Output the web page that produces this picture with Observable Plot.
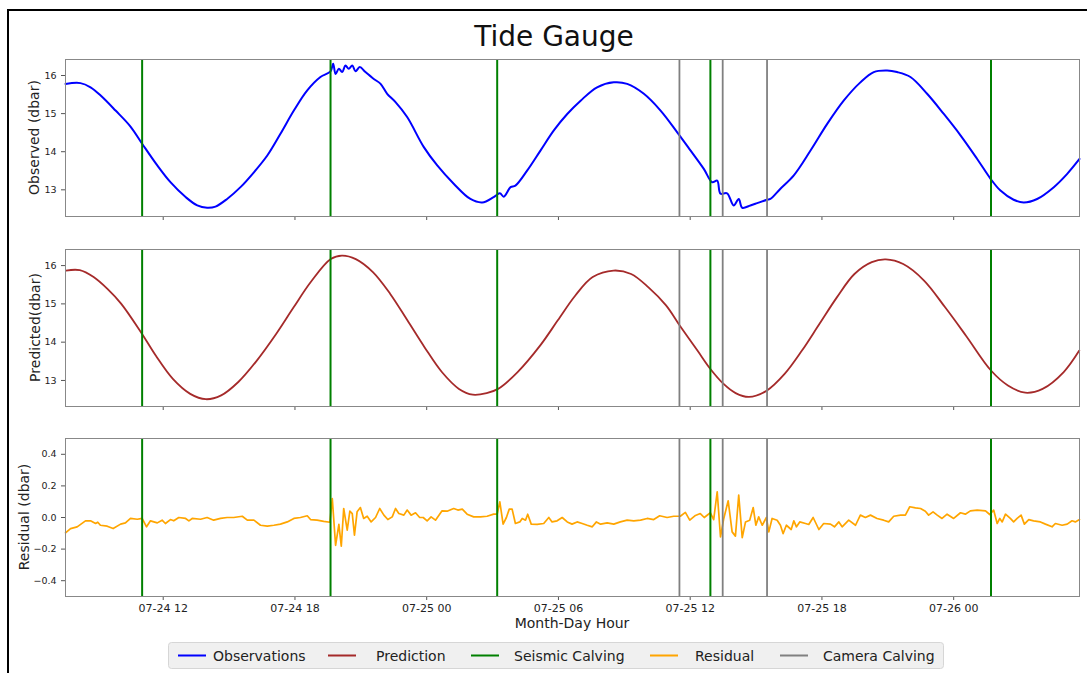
<!DOCTYPE html>
<html><head><meta charset="utf-8">
<script src="https://cdn.jsdelivr.net/npm/d3@7"></script>
<script src="https://cdn.jsdelivr.net/npm/@observablehq/plot@0.6"></script>
<style>
body{margin:0;background:#fff;}
#wrap{position:relative;width:1087px;height:673px;overflow:hidden;font-family:"DejaVu Sans",sans-serif;background:#fff;}
#wrap > svg{position:absolute;left:0;}
#overlay{position:absolute;left:0;top:0;pointer-events:none;}
</style></head><body><div id="wrap"></div>
<script>
// ---- data (hours since 07-24 00:00, values in dbar) ----
const xDomainHours = [7.55, 53.73];
const xTickHours = [12, 18, 24, 30, 36, 42, 48];
const levelTicks = [13, 14, 15, 16];
const residualTicks = [-0.4, -0.2, 0, 0.2, 0.4];
const seismicHours = [11.04, 19.62, 27.21, 36.92, 49.70];
const cameraHours = [35.51, 37.48, 39.50];

const observed = [[7.55,15.78],[8.23,15.80],[8.69,15.69],[9.14,15.48],[9.83,15.08],[10.51,14.66],[11.04,14.21],[11.73,13.64],[12.33,13.20],[13.02,12.81],[13.55,12.59],[14.00,12.53],[14.38,12.56],[14.91,12.76],[15.52,13.07],[16.13,13.46],[16.74,13.90],[17.34,14.47],[17.95,15.08],[18.56,15.61],[19.16,15.96],[19.62,16.11],[19.74,16.31],[19.85,16.04],[20.00,16.18],[20.15,16.09],[20.30,16.26],[20.45,16.18],[20.61,16.26],[20.76,16.11],[20.95,16.22],[21.21,16.09],[21.59,15.91],[21.90,15.78],[22.20,15.52],[22.58,15.30],[23.11,14.91],[23.87,14.12],[24.48,13.64],[25.23,13.16],[25.99,12.76],[26.53,12.67],[27.05,12.81],[27.33,12.91],[27.51,12.82],[27.82,13.07],[28.04,13.11],[28.58,13.51],[29.18,14.03],[29.79,14.56],[30.40,14.99],[31.01,15.34],[31.76,15.69],[32.52,15.82],[33.13,15.78],[33.89,15.52],[34.65,15.08],[35.41,14.51],[36.02,14.03],[36.62,13.55],[37.00,13.20],[37.23,13.24],[37.38,12.90],[37.68,12.91],[37.98,12.59],[38.21,12.76],[38.37,12.53],[38.74,12.59],[39.05,12.65],[39.50,12.74],[39.65,12.76],[40.11,13.03],[40.72,13.38],[41.48,14.03],[42.24,14.73],[42.99,15.34],[43.75,15.82],[44.36,16.09],[44.97,16.13],[45.42,16.09],[46.03,15.96],[46.79,15.52],[47.55,14.99],[48.31,14.43],[49.07,13.81],[49.68,13.29],[50.13,12.98],[50.73,12.74],[51.19,12.67],[51.80,12.76],[52.56,13.07],[53.17,13.42],[53.73,13.81]];

const predicted = [[7.57,15.87],[8.20,15.88],[8.83,15.70],[9.46,15.39],[10.09,15.00],[11.03,14.22],[11.66,13.65],[12.44,13.04],[13.23,12.65],[13.94,12.51],[14.64,12.61],[15.42,12.96],[16.21,13.48],[17.15,14.22],[17.94,14.91],[18.72,15.57],[19.63,16.17],[20.14,16.26],[20.77,16.17],[21.55,15.83],[22.34,15.26],[23.12,14.57],[23.90,13.87],[24.69,13.22],[25.47,12.78],[26.10,12.63],[26.73,12.67],[27.25,12.78],[28.14,13.22],[29.19,13.93],[29.97,14.57],[30.77,15.22],[31.56,15.70],[32.51,15.87],[33.31,15.78],[34.10,15.43],[34.90,14.96],[35.53,14.43],[36.33,13.78],[36.92,13.30],[37.52,12.91],[38.07,12.67],[38.68,12.57],[39.50,12.74],[40.30,13.17],[41.09,13.78],[41.89,14.48],[42.68,15.17],[43.48,15.78],[44.27,16.09],[44.91,16.16],[45.70,16.04],[46.65,15.61],[47.61,14.91],[48.56,14.17],[49.70,13.26],[50.47,12.87],[51.26,12.68],[52.05,12.78],[53.01,13.22],[53.72,13.78]];

const residual = [[7.55,-0.097],[7.78,-0.07],[8.08,-0.059],[8.46,-0.021],[8.69,-0.021],[8.92,-0.038],[9.02,-0.03],[9.14,-0.049],[9.45,-0.055],[9.72,-0.07],[10.06,-0.042],[10.28,-0.034],[10.51,-0.006],[10.82,-0.011],[11.04,-0.006],[11.24,-0.059],[11.42,-0.021],[11.73,-0.034],[11.95,-0.017],[12.10,-0.038],[12.33,-0.013],[12.48,-0.021],[12.71,0],[13.02,-0.006],[13.17,-0.021],[13.32,-0.006],[13.70,-0.011],[14.00,0],[14.30,-0.017],[14.61,-0.006],[14.91,0],[15.21,0],[15.60,0.008],[15.83,-0.017],[16.13,-0.017],[16.43,-0.049],[16.74,-0.055],[17.04,-0.049],[17.34,-0.042],[17.65,-0.028],[17.95,-0.006],[18.25,0],[18.56,0.011],[18.71,-0.013],[19.01,-0.017],[19.31,-0.025],[19.59,-0.03],[19.70,0.12],[19.85,-0.176],[20.00,-0.044],[20.11,-0.182],[20.22,0.057],[20.38,-0.08],[20.50,0.04],[20.61,0.025],[20.71,-0.112],[20.83,0.036],[20.98,0.063],[21.13,-0.006],[21.29,0.008],[21.47,-0.028],[21.67,0],[21.86,0.057],[22.05,0.015],[22.23,-0.013],[22.43,0.004],[22.58,0.057],[22.73,0.025],[22.96,0.015],[23.11,0.047],[23.29,0.015],[23.49,0.03],[23.68,0],[23.84,0],[24.02,-0.021],[24.20,0.004],[24.40,-0.017],[24.70,0.042],[24.93,0.04],[25.23,0.057],[25.42,0.047],[25.62,0.053],[25.84,0.021],[26.14,0.004],[26.45,0.004],[26.75,0.008],[27.05,0.021],[27.21,0.021],[27.33,0.099],[27.48,-0.042],[27.63,0],[27.76,0.053],[27.89,0.053],[28.04,-0.038],[28.24,-0.028],[28.35,-0.006],[28.50,-0.017],[28.60,0.021],[28.76,-0.042],[29.03,-0.044],[29.33,-0.038],[29.56,0],[29.71,-0.028],[29.94,-0.021],[30.17,0],[30.40,-0.028],[30.62,-0.042],[30.85,-0.028],[31.08,-0.038],[31.31,-0.049],[31.54,-0.059],[31.73,-0.028],[31.92,-0.042],[32.22,-0.034],[32.52,-0.042],[32.82,-0.028],[33.13,-0.017],[33.43,-0.021],[33.74,-0.017],[34.04,-0.006],[34.34,-0.013],[34.61,0.011],[34.95,0],[35.25,0.008],[35.55,0.008],[35.78,0.032],[35.98,-0.017],[36.24,0.013],[36.46,0.025],[36.64,0],[36.92,0.03],[37.07,-0.013],[37.23,0.163],[37.38,-0.123],[37.53,-0.006],[37.73,0.106],[37.91,-0.091],[38.06,-0.118],[38.21,0.142],[38.37,-0.127],[38.52,-0.028],[38.71,-0.017],[38.87,0.063],[38.99,-0.049],[39.12,0.004],[39.28,-0.049],[39.47,0],[39.58,-0.091],[39.73,-0.006],[39.96,-0.017],[40.11,-0.049],[40.23,-0.102],[40.38,-0.049],[40.60,-0.076],[40.72,-0.021],[40.84,-0.059],[40.99,-0.028],[41.25,-0.038],[41.40,-0.044],[41.60,0],[41.86,-0.076],[42.08,-0.038],[42.39,-0.042],[42.57,-0.059],[42.77,-0.028],[42.92,-0.059],[43.22,-0.017],[43.53,-0.049],[43.75,0.015],[43.98,0],[44.21,0.015],[44.51,-0.006],[44.81,-0.017],[45.04,-0.028],[45.27,0.008],[45.58,0.015],[45.80,0.015],[46.00,0.068],[46.26,0.061],[46.49,0.057],[46.71,0.04],[46.86,0.015],[47.06,0.036],[47.25,0.015],[47.47,-0.006],[47.70,0.021],[48.00,-0.006],[48.31,0.03],[48.53,0.021],[48.76,0.042],[49.07,0.047],[49.45,0.042],[49.64,0.019],[49.82,0.047],[49.98,-0.038],[50.10,-0.006],[50.21,-0.028],[50.36,0.021],[50.58,-0.006],[50.73,-0.028],[50.89,-0.006],[51.07,0.015],[51.22,-0.042],[51.42,-0.013],[51.64,-0.021],[51.95,-0.028],[52.18,-0.042],[52.48,-0.059],[52.63,-0.038],[52.94,-0.049],[53.17,-0.042],[53.39,-0.021],[53.54,-0.028],[53.73,-0.013]];

const legendItems = [
  {label: "Observations", color: "#0000ff"},
  {label: "Prediction", color: "#a52a2a"},
  {label: "Seismic Calving", color: "#008000"},
  {label: "Residual", color: "#ffa500"},
  {label: "Camera Calving", color: "#808080"}
];

// ---- helpers ----
const base = Date.UTC(2023, 6, 24);
const toDate = h => new Date(base + h * 3600000);
const xDomain = xDomainHours.map(toDate);
const xTicks = xTickHours.map(toDate);
const seismic = seismicHours.map(toDate);
const camera = cameraHours.map(toDate);
const fmtX = d3.utcFormat("%m-%d %H");
const minus = d => d.toFixed(1).replace("-", "\u2212");

const wrap = document.getElementById("wrap");

function panel({top, height, marginBottom, yDomain, yTicks, yFmt, data, color, curve, sw, showX}) {
  const chart = Plot.plot({
    width: 1087, height, marginLeft: 65, marginRight: 8, marginTop: 10, marginBottom,
    x: {type: "utc", domain: xDomain},
    y: {domain: yDomain},
    style: {fontFamily: "DejaVu Sans, sans-serif", fontSize: "9.5px", color: "#222", background: "transparent", overflow: "visible"},
    marks: [
      Plot.axisY({ticks: yTicks, tickSize: 4, tickPadding: 5, tickFormat: yFmt, label: null, stroke: "#555", fill: "#222", fontSize: 9.5}),
      Plot.axisX({ticks: xTicks, tickSize: 4, tickPadding: 4, tickFormat: showX ? fmtX : () => "", label: null, stroke: "#555", fill: "#222", fontSize: 11}),
      Plot.line(data, {x: d => toDate(d[0]), y: d => d[1], stroke: color, strokeWidth: sw, curve}),
      Plot.ruleX(camera, {stroke: "#808080", strokeWidth: 1.8}),
      Plot.ruleX(seismic, {stroke: "#008000", strokeWidth: 2}),
      Plot.frame({stroke: "#888", strokeWidth: 1})
    ]
  });
  chart.style.top = top + "px";
  chart.style.position = "absolute";
  chart.style.left = "0px";
  wrap.appendChild(chart);
}

panel({top: 49, height: 177, marginBottom: 10, yDomain: [12.30, 16.42], yTicks: levelTicks, yFmt: d => String(d),
  data: observed, color: "#0000ff", curve: "catmull-rom", sw: 2, showX: false});
panel({top: 239, height: 177, marginBottom: 10, yDomain: [12.32, 16.42], yTicks: levelTicks, yFmt: d => String(d),
  data: predicted, color: "#a52a2a", curve: "catmull-rom", sw: 1.8, showX: false});
panel({top: 428, height: 198, marginBottom: 30, yDomain: [-0.5, 0.5], yTicks: residualTicks, yFmt: minus,
  data: residual, color: "#ffa500", curve: "linear", sw: 1.7, showX: true});

// ---- overlay: title, axis labels, legend, border ----
const NS = "http://www.w3.org/2000/svg";
const ov = document.createElementNS(NS, "svg");
ov.setAttribute("id", "overlay");
ov.setAttribute("width", 1087);
ov.setAttribute("height", 673);
ov.style.position = "absolute";
function el(tag, attrs, text) {
  const e = document.createElementNS(NS, tag);
  for (const k in attrs) e.setAttribute(k, attrs[k]);
  if (text != null) e.textContent = text;
  ov.appendChild(e);
  return e;
}
el("line", {x1: 8, y1: 10, x2: 1087, y2: 10, stroke: "#000", "stroke-width": 2});
el("line", {x1: 8, y1: 9, x2: 8, y2: 673, stroke: "#000", "stroke-width": 2});
el("text", {x: 554, y: 46, "text-anchor": "middle", "font-family": "DejaVu Sans", "font-size": 28, fill: "#111"}, "Tide Gauge");
const ylab = [["Observed (dbar)", 34, 137.5], ["Predicted(dbar)", 35, 327.5], ["Residual (dbar)", 23.5, 517]];
for (const [t, x, y] of ylab) {
  el("text", {transform: `translate(${x},${y}) rotate(-90)`, "text-anchor": "middle", "dominant-baseline": "central",
    "font-family": "DejaVu Sans", "font-size": 14, fill: "#222"}, t);
}
el("text", {x: 572, y: 628, "text-anchor": "middle", "font-family": "DejaVu Sans", "font-size": 14, fill: "#222"}, "Month-Day Hour");
el("rect", {x: 168.5, y: 642.5, width: 775, height: 26, rx: 3, fill: "#f0f0f0", stroke: "#d6d6d6"});
const legX = [[178, 213], [328, 376], [471, 514], [650, 695], [780, 823]];
legendItems.forEach((it, i) => {
  const [lx, tx] = legX[i];
  el("line", {x1: lx, y1: 655.5, x2: lx + 28, y2: 655.5, stroke: it.color, "stroke-width": 2});
  el("text", {x: tx, y: 660.5, "font-family": "DejaVu Sans", "font-size": 14, fill: "#222"}, it.label);
});
wrap.appendChild(ov);
</script></body></html>
